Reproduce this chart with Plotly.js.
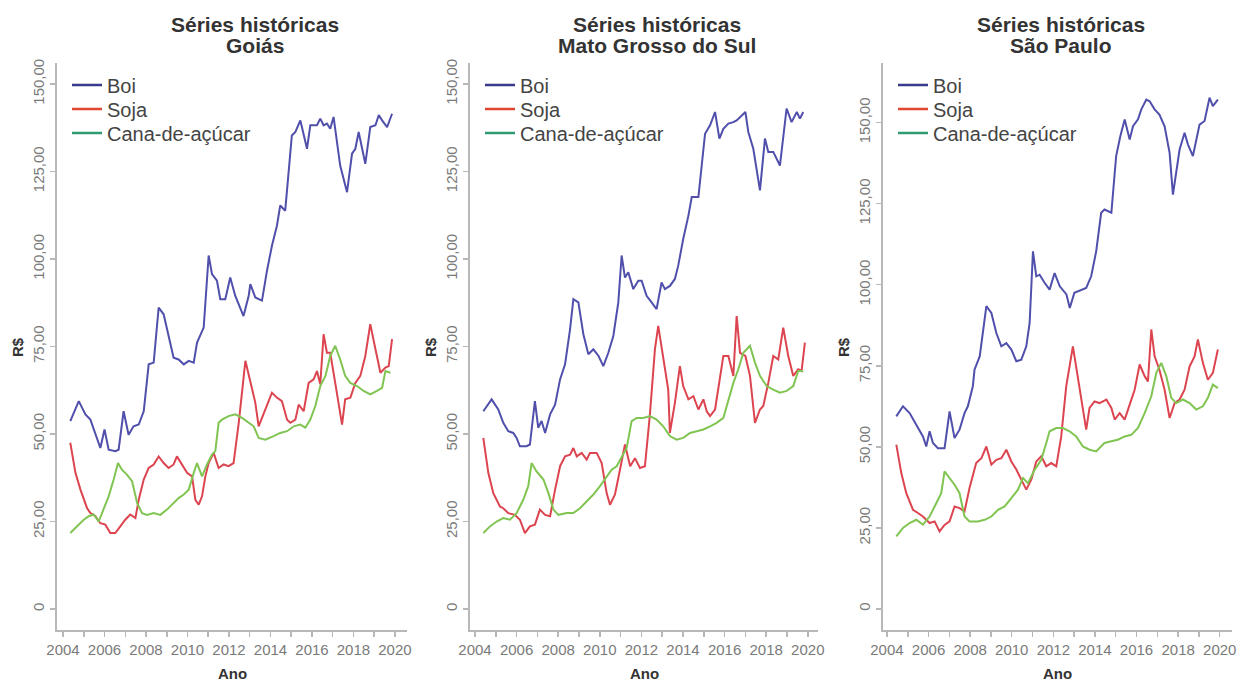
<!DOCTYPE html>
<html>
<head>
<meta charset="utf-8">
<script src="https://cdn.plot.ly/plotly-3.0.1.min.js"></script>
<style>html,body{margin:0;padding:0;background:#fff;}#chart{width:1243px;height:683px;}</style>
</head>
<body>
<div id="chart"></div>
<script>
// ---------- DATA ----------
const seriesNames = ["Boi", "Soja", "Cana-de-açúcar"];
const panelTitles = ["Goiás", "Mato Grosso do Sul", "São Paulo"];
const yTickVals = [0, 25, 50, 75, 100, 125, 150];
const yTickText = ["0", "25,00", "50,00", "75,00", "100,00", "125,00", "150,00"];
const xTickVals = [2004,2005,2006,2007,2008,2009,2010,2011,2012,2013,2014,2015,2016,2017,2018,2019,2020];
const xTickText = ["2004","","2006","","2008","","2010","","2012","","2014","","2016","","2018","","2020"];

// Goiás
const goBoiX = [2004.35,2004.76,2005.08,2005.32,2005.8,2006.0,2006.2,2006.52,2006.68,2006.92,2007.16,2007.4,2007.65,2007.89,2008.13,2008.37,2008.61,2008.85,2009.33,2009.57,2009.82,2010.06,2010.3,2010.46,2010.78,2011.02,2011.18,2011.42,2011.58,2011.82,2012.06,2012.3,2012.7,2012.95,2013.03,2013.27,2013.59,2013.83,2014.07,2014.31,2014.47,2014.71,2015.03,2015.2,2015.44,2015.76,2015.92,2016.24,2016.4,2016.56,2016.72,2016.88,2017.04,2017.36,2017.69,2017.93,2018.09,2018.25,2018.57,2018.81,2019.06,2019.22,2019.38,2019.62,2019.86];
const goBoiY = [53.7,59.4,55.6,54.1,46.0,51.3,45.5,45.1,45.5,56.5,49.8,52.2,52.7,56.5,69.9,70.4,86.1,84.2,71.8,71.3,69.9,70.9,70.4,76.1,80.4,101.0,95.7,93.8,88.5,88.5,94.7,89.5,83.7,89.5,92.8,89.0,88.1,96.6,103.8,109.5,115.3,113.8,135.3,136.3,139.6,131.5,138.2,138.2,140.1,138.2,138.7,137.2,140.6,126.7,119.1,130.1,131.5,136.3,127.2,137.7,138.2,141.1,139.6,137.7,141.5];
const goSojaX = [2004.35,2004.6,2004.84,2005.16,2005.32,2005.56,2005.8,2006.04,2006.28,2006.52,2006.76,2007.0,2007.24,2007.49,2007.65,2007.89,2008.13,2008.37,2008.61,2008.85,2009.09,2009.33,2009.49,2009.73,2009.98,2010.22,2010.38,2010.54,2010.7,2010.86,2011.02,2011.26,2011.5,2011.74,2011.98,2012.22,2012.47,2012.79,2013.03,2013.27,2013.43,2013.59,2013.83,2014.07,2014.31,2014.55,2014.8,2014.96,2015.2,2015.36,2015.6,2015.84,2016.08,2016.24,2016.4,2016.56,2016.72,2016.88,2017.12,2017.45,2017.6,2017.85,2018.09,2018.33,2018.57,2018.81,2019.06,2019.3,2019.54,2019.7,2019.86];
const goSojaY = [47.5,38.9,34.1,28.8,27.4,26.5,24.5,24.1,21.7,21.7,23.6,25.5,27.0,26.0,31.2,37.0,40.3,41.3,43.6,41.7,40.3,41.3,43.6,41.3,38.9,37.9,31.2,29.8,32.2,37.9,41.7,44.6,40.3,41.3,40.8,41.7,53.2,70.9,64.6,58.9,52.2,54.6,58.4,61.8,60.4,59.4,54.1,53.2,54.1,58.4,56.5,64.6,65.6,68.0,64.2,78.5,73.2,73.2,64.6,52.7,59.9,60.4,64.6,66.6,72.3,81.4,74.2,67.5,69.0,69.4,77.1];
const goCanaX = [2004.35,2004.67,2005.0,2005.24,2005.48,2005.72,2005.96,2006.2,2006.44,2006.65,2006.84,2007.08,2007.33,2007.57,2007.81,2008.05,2008.37,2008.69,2009.01,2009.33,2009.57,2009.82,2010.06,2010.3,2010.46,2010.7,2010.94,2011.18,2011.34,2011.5,2011.66,2011.98,2012.3,2012.63,2012.95,2013.19,2013.43,2013.75,2014.15,2014.47,2014.8,2015.12,2015.44,2015.68,2015.92,2016.16,2016.4,2016.65,2016.88,2017.12,2017.36,2017.6,2017.85,2018.17,2018.49,2018.81,2019.13,2019.38,2019.54,2019.78];
const goCanaY = [21.7,23.6,25.5,26.5,27.0,25.0,28.4,32.2,37.0,41.7,39.8,38.4,36.5,30.3,27.4,26.9,27.4,26.9,28.4,30.3,31.7,32.7,34.1,38.9,41.7,37.9,41.3,44.1,45.1,53.2,54.1,55.1,55.6,54.6,53.2,52.2,48.9,48.4,49.4,50.3,50.8,52.2,52.7,51.8,54.1,58.0,63.7,66.6,72.3,75.2,71.3,66.6,64.6,63.7,62.3,61.3,62.3,63.2,68.0,67.5];

// Mato Grosso do Sul
const msBoiX = [2004.4,2004.8,2005.12,2005.36,2005.6,2005.84,2006.0,2006.16,2006.48,2006.64,2006.88,2007.04,2007.2,2007.37,2007.61,2007.85,2008.09,2008.33,2008.57,2008.73,2008.97,2009.21,2009.45,2009.69,2009.94,2010.17,2010.41,2010.65,2010.89,2011.05,2011.21,2011.37,2011.61,2011.85,2012.01,2012.25,2012.49,2012.73,2012.97,2013.13,2013.37,2013.61,2013.77,2014.01,2014.26,2014.42,2014.74,2015.06,2015.3,2015.54,2015.75,2015.94,2016.18,2016.42,2016.58,2016.82,2017.0,2017.14,2017.38,2017.7,2017.86,2017.94,2018.1,2018.34,2018.66,2018.98,2019.22,2019.47,2019.62,2019.78];
const msBoiY = [56.5,59.9,57.0,53.2,50.8,50.3,48.9,46.5,46.5,47.0,59.4,51.8,53.7,50.3,55.6,58.4,65.6,69.9,79.9,88.5,87.6,78.5,72.8,74.2,72.3,69.4,73.2,78.0,87.6,101.0,94.7,96.2,91.4,93.8,93.8,89.5,87.6,85.7,93.3,91.4,92.3,94.3,98.1,105.7,112.4,117.7,117.7,135.8,138.2,142.0,134.4,137.2,138.7,139.1,139.6,141.1,142.0,136.3,131.5,119.6,129.6,134.4,130.6,130.6,126.7,143.0,139.1,142.0,140.1,142.0];
const msSojaX = [2004.4,2004.64,2004.88,2005.2,2005.36,2005.6,2005.92,2006.16,2006.4,2006.64,2006.88,2007.12,2007.37,2007.61,2007.85,2008.09,2008.33,2008.57,2008.73,2008.89,2009.13,2009.37,2009.53,2009.85,2010.09,2010.33,2010.49,2010.73,2010.97,2011.21,2011.46,2011.69,2011.93,2012.17,2012.41,2012.65,2012.81,2013.05,2013.29,2013.37,2013.61,2013.85,2014.01,2014.26,2014.5,2014.74,2014.98,2015.14,2015.3,2015.54,2015.78,2015.94,2016.18,2016.42,2016.58,2016.74,2017.0,2017.22,2017.46,2017.7,2017.86,2018.1,2018.34,2018.58,2018.82,2019.06,2019.3,2019.54,2019.7,2019.86];
const msSojaY = [48.9,38.9,33.1,29.3,28.8,27.4,26.9,25.5,21.7,23.6,24.1,28.4,26.9,26.5,34.1,40.8,43.6,44.1,46.0,43.6,44.6,42.7,44.6,44.6,41.7,33.1,29.8,32.7,39.8,47.0,40.8,43.1,40.3,40.8,55.6,74.2,80.9,72.3,62.7,50.3,58.9,69.4,63.7,59.9,60.8,57.0,59.9,56.5,55.1,57.0,66.6,72.3,72.3,66.6,83.7,73.2,72.3,66.6,53.2,57.0,58.0,64.6,72.3,71.3,80.4,72.3,66.6,68.5,68.0,76.1];
const msCanaX = [2004.4,2004.72,2005.04,2005.36,2005.68,2006.0,2006.32,2006.56,2006.72,2006.96,2007.29,2007.53,2007.77,2008.01,2008.41,2008.73,2009.05,2009.37,2009.69,2010.01,2010.33,2010.57,2010.81,2011.05,2011.29,2011.53,2011.78,2012.09,2012.41,2012.73,2013.05,2013.37,2013.69,2014.01,2014.34,2014.66,2014.98,2015.3,2015.62,2015.94,2016.18,2016.42,2016.66,2016.9,2017.22,2017.46,2017.7,2018.02,2018.34,2018.66,2018.98,2019.3,2019.54,2019.78];
const msCanaY = [21.7,23.6,25.0,26.0,25.5,27.4,31.2,35.1,41.7,39.3,37.0,33.1,28.4,26.9,27.4,27.4,28.8,30.8,32.7,35.1,37.9,39.8,40.8,43.6,46.0,53.7,54.6,54.6,55.1,54.1,52.2,49.4,48.4,48.9,50.3,50.8,51.3,52.2,53.2,54.6,59.9,64.6,68.5,73.2,75.2,70.4,66.6,63.7,62.7,61.8,62.3,63.7,68.0,68.0];

// São Paulo
const spBoiX = [2004.45,2004.77,2005.09,2005.41,2005.73,2005.89,2006.05,2006.21,2006.45,2006.77,2007.01,2007.25,2007.49,2007.73,2007.89,2008.13,2008.21,2008.46,2008.62,2008.78,2009.02,2009.26,2009.5,2009.74,2009.98,2010.22,2010.46,2010.7,2010.86,2011.02,2011.18,2011.34,2011.58,2011.82,2012.06,2012.31,2012.63,2012.79,2013.01,2013.34,2013.58,2013.82,2014.06,2014.3,2014.46,2014.79,2015.02,2015.22,2015.43,2015.67,2015.83,2016.07,2016.23,2016.47,2016.63,2016.87,2017.1,2017.35,2017.59,2017.75,2017.91,2018.07,2018.31,2018.47,2018.71,2019.03,2019.27,2019.51,2019.67,2019.91];
const spBoiY = [59.4,62.5,60.4,56.8,53.2,50.1,54.8,51.2,49.6,49.6,60.9,52.7,55.3,60.4,62.5,68.7,73.8,77.9,86.2,93.4,91.3,85.1,81.0,82.0,80.0,76.4,76.9,81.0,88.2,110.3,102.6,103.1,100.6,98.5,103.6,99.5,97.0,92.8,97.5,98.5,99.0,102.6,110.3,122.2,123.2,122.2,139.7,145.8,151.0,144.8,148.9,151.0,154.1,157.1,156.6,154.1,152.5,148.9,140.7,127.8,135.5,141.7,146.9,143.3,139.7,149.4,150.5,157.7,155.1,157.1];
const spSojaX = [2004.45,2004.69,2004.93,2005.25,2005.49,2005.73,2006.05,2006.29,2006.53,2006.77,2007.01,2007.25,2007.49,2007.73,2007.97,2008.29,2008.54,2008.78,2009.02,2009.26,2009.5,2009.74,2009.98,2010.22,2010.46,2010.7,2010.94,2011.18,2011.42,2011.66,2011.9,2012.14,2012.38,2012.62,2012.94,2013.18,2013.42,2013.58,2013.74,2013.98,2014.22,2014.55,2014.79,2014.95,2015.19,2015.43,2015.67,2015.91,2016.15,2016.39,2016.55,2016.71,2016.87,2017.1,2017.35,2017.59,2017.83,2018.07,2018.31,2018.55,2018.79,2018.95,2019.19,2019.43,2019.67,2019.91];
const spSojaY = [50.7,41.9,35.7,30.6,29.6,28.5,26.5,27.0,23.9,25.9,27.0,31.6,31.1,30.1,37.3,45.0,46.5,50.1,44.5,46.0,46.5,49.1,45.5,43.0,39.9,36.8,39.9,45.5,47.1,44.0,45.0,44.0,53.2,68.7,81.0,71.8,62.5,55.3,62.0,64.0,63.5,64.6,62.0,58.4,60.4,58.4,63.0,67.6,75.4,71.8,70.2,86.2,77.9,73.8,67.6,58.9,63.5,64.6,67.6,74.8,77.9,83.1,75.9,70.7,72.8,80.0];
const spCanaX = [2004.45,2004.77,2005.09,2005.41,2005.73,2006.05,2006.37,2006.61,2006.77,2007.01,2007.25,2007.49,2007.73,2007.97,2008.37,2008.7,2009.02,2009.34,2009.66,2009.98,2010.3,2010.54,2010.78,2011.1,2011.42,2011.66,2011.82,2012.14,2012.46,2012.78,2013.1,2013.42,2013.74,2014.06,2014.46,2014.79,2015.1,2015.43,2015.75,2016.07,2016.39,2016.71,2016.95,2017.19,2017.43,2017.67,2017.91,2018.23,2018.55,2018.87,2019.19,2019.43,2019.67,2019.91];
const spCanaY = [22.4,25.0,26.5,27.5,26.0,28.5,32.6,35.7,42.4,40.4,38.3,35.7,28.5,27.0,27.0,27.5,28.5,30.6,31.6,34.2,36.8,40.4,38.8,42.9,46.0,51.2,54.8,55.8,55.8,54.8,53.2,50.1,49.1,48.6,51.2,51.7,52.2,53.2,53.7,55.8,60.4,65.6,72.8,75.9,71.8,65.1,63.5,64.6,63.5,61.5,62.5,65.1,69.2,68.1];

// ---------- BUILD ----------
const panels = [
  {title: panelTitles[0], data: [[goBoiX, goBoiY],[goSojaX, goSojaY],[goCanaX, goCanaY]]},
  {title: panelTitles[1], data: [[msBoiX, msBoiY],[msSojaX, msSojaY],[msCanaX, msCanaY]]},
  {title: panelTitles[2], data: [[spBoiX, spBoiY],[spSojaX, spSojaY],[spCanaX, spCanaY]]}
];
const lineColors = ["#5050ac", "#dc4550", "#80c452"];
const legendColors = ["#3a3a8c", "#e0452e", "#2e9a70"];
const W = 1243, H = 683;
const geo = [
  {x0: 57, x1: 407, xr: [2003.71, 2020.58], yr: [-6, 156], titleX: 255},
  {x0: 470, x1: 818, xr: [2003.76, 2020.49], yr: [-6, 156], titleX: 657},
  {x0: 883, x1: 1232, xr: [2003.81, 2020.59], yr: [-6.5, 168.4], titleX: 1061}
];
const legendRowsY = [85, 109, 133];
const yTop = 63, yBot = 630;
const FONT = "Liberation Sans, Arial, Helvetica, sans-serif";
const traces = [];
const layout = {
  width: W, height: H, autosize: false,
  margin: {l: 0, r: 0, t: 0, b: 0},
  paper_bgcolor: "#ffffff", plot_bgcolor: "#ffffff",
  font: {family: FONT, color: "#444"},
  showlegend: true,
  annotations: []
};
let legIdx = 0;
panels.forEach((p, i) => {
  const g = geo[i];
  const s = i === 0 ? "" : String(i + 1);
  const xa = "x" + s, ya = "y" + s;
  p.data.forEach((d, k) => {
    traces.push({type: "scatter", mode: "lines", x: d[0], y: d[1], xaxis: xa, yaxis: ya,
      line: {color: lineColors[k], width: 2}, showlegend: false, hoverinfo: "skip"});
  });
  seriesNames.forEach((n, k) => {
    legIdx += 1;
    const leg = legIdx === 1 ? "legend" : "legend" + legIdx;
    traces.push({type: "scatter", mode: "lines", x: [null], y: [null], xaxis: xa, yaxis: ya,
      name: n, legend: leg, line: {color: legendColors[k], width: 2.5}, showlegend: true});
    layout[leg] = {x: (g.x0 + 10) / W, y: 1 - legendRowsY[k] / H, xanchor: "left", yanchor: "middle",
      bgcolor: "rgba(0,0,0,0)", borderwidth: 0, font: {family: FONT, size: 20, color: "#444"},
      itemwidth: 30};
  });
  const axCommon = {showline: true, linecolor: "#b8b8b8", linewidth: 2, ticks: "outside",
    ticklen: 5, tickwidth: 1.5, tickcolor: "#b8b8b8", showgrid: false, zeroline: false,
    automargin: false, fixedrange: true, tickfont: {family: FONT, size: 15, color: "#7a7a7a"}};
  layout["xaxis" + s] = Object.assign({}, axCommon, {
    domain: [g.x0 / W, g.x1 / W], range: g.xr, anchor: ya,
    tickmode: "array", tickvals: xTickVals, ticktext: xTickText, tickangle: 0});
  layout["yaxis" + s] = Object.assign({}, axCommon, {
    domain: [1 - yBot / H, 1 - yTop / H], range: g.yr, anchor: xa,
    tickmode: "array", tickvals: yTickVals, ticktext: yTickText, tickangle: -90});
  layout.annotations.push({xref: "paper", yref: "paper", x: g.titleX / W, y: 1 - 24 / H,
    xanchor: "center", yanchor: "middle", showarrow: false, text: "Séries históricas",
    font: {family: FONT, size: 21, color: "#333", weight: "bold"}});
  layout.annotations.push({xref: "paper", yref: "paper", x: g.titleX / W, y: 1 - 45 / H,
    xanchor: "center", yanchor: "middle", showarrow: false, text: p.title,
    font: {family: FONT, size: 21, color: "#333", weight: "bold"}});
  layout.annotations.push({xref: "paper", yref: "paper", x: ((g.x0 + g.x1) / 2) / W, y: 1 - 673 / H,
    xanchor: "center", yanchor: "middle", showarrow: false, text: "Ano",
    font: {family: FONT, size: 15, color: "#333", weight: "bold"}});
  layout.annotations.push({xref: "paper", yref: "paper", x: (g.x0 - 40) / W, y: 1 - 347 / H,
    xanchor: "center", yanchor: "middle", showarrow: false, text: "R$", textangle: -90,
    font: {family: FONT, size: 15, color: "#333", weight: "bold"}});
});
Plotly.newPlot("chart", traces, layout, {displayModeBar: false, staticPlot: true});
</script>
</body>
</html>
